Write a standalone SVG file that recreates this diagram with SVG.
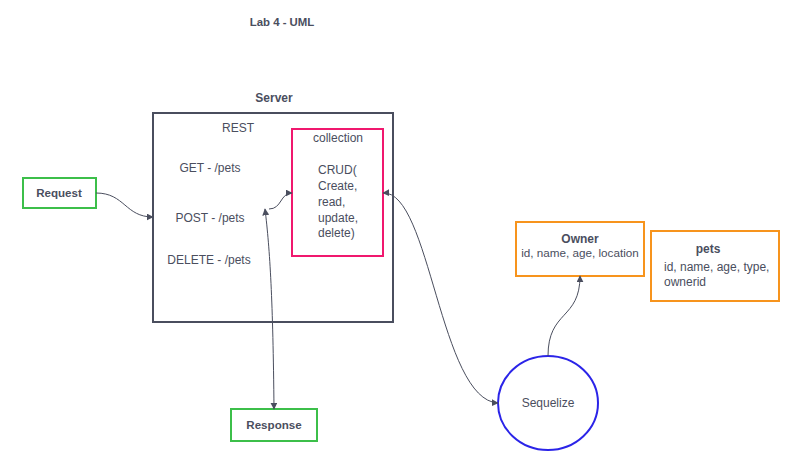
<svg xmlns="http://www.w3.org/2000/svg" width="799" height="463" viewBox="0 0 799 463">
<style>
text{font-family:"Liberation Sans",Arial,sans-serif;font-size:12px;fill:#4a4e5e}
.b{font-weight:bold}
.m{text-anchor:middle}
.edge{fill:none;stroke:#4a4e5e;stroke-width:1}
.green{fill:#fff;stroke:#3cbf4a;stroke-width:2}
.orange{fill:#fff;stroke:#f7941d;stroke-width:2}
</style>
<defs>
<marker id="ah" viewBox="0 0 10 10" refX="9" refY="5" markerWidth="7" markerHeight="7" markerUnits="userSpaceOnUse" orient="auto-start-reverse">
<path d="M0,0 L10,5 L0,10 z" fill="#4a4e5e"/>
</marker>
</defs>
<rect width="799" height="463" fill="#fff"/>
<text class="b m" x="282" y="26" style="font-size:11.4px">Lab 4 - UML</text>
<g id="server">
<text class="b m" x="274" y="102">Server</text>
<rect x="153" y="113" width="240" height="209" fill="#fff" stroke="#4a4e5e" stroke-width="2"/>
<text class="m" x="238" y="132">REST</text>
<text class="m" x="210" y="172">GET - /pets</text>
<text class="m" x="210" y="222">POST - /pets</text>
<text class="m" x="209" y="264">DELETE - /pets</text>
</g>
<g id="collection">
<rect x="292" y="129" width="91" height="127" fill="#fff" stroke="#f0186e" stroke-width="2"/>
<text class="m" x="338" y="142">collection</text>
<text x="318" y="174">CRUD(</text>
<text x="318" y="190">Create,</text>
<text x="318" y="206">read,</text>
<text x="318" y="222">update,</text>
<text x="318" y="237">delete)</text>
</g>
<g id="request">
<rect class="green" x="23" y="178" width="73" height="30"/>
<text class="b m" x="59" y="197" style="font-size:11.6px">Request</text>
</g>
<g id="response">
<rect class="green" x="231" y="409" width="86" height="32"/>
<text class="b m" x="274" y="429" style="font-size:11.6px">Response</text>
</g>
<g id="sequelize">
<ellipse cx="548" cy="403" rx="50" ry="47" fill="#fff" stroke="#2b24e8" stroke-width="2"/>
<text class="m" x="548" y="407">Sequelize</text>
</g>
<g id="owner">
<rect class="orange" x="516" y="222" width="128" height="54"/>
<text class="b m" x="580" y="243">Owner</text>
<text class="m" x="580" y="257" style="font-size:11.7px">id, name, age, location</text>
</g>
<g id="pets">
<rect class="orange" x="651" y="231" width="128" height="70"/>
<text class="b m" x="708" y="253">pets</text>
<text x="664" y="271">id, name, age, type,</text>
<text x="664" y="286">ownerid</text>
</g>
<g id="connectors">
<path class="edge" d="M96,193 C125,193 125,217 153,217" marker-end="url(#ah)"/>
<path class="edge" d="M269,209 C282,209 280,193 292,193" marker-end="url(#ah)"/>
<path class="edge" d="M265,209 C270,250 273,300 274,409" marker-start="url(#ah)" marker-end="url(#ah)"/>
<path class="edge" d="M383,193 C430,190 440,400 498,403" marker-start="url(#ah)" marker-end="url(#ah)"/>
<path class="edge" d="M548,356 C548,310 580,320 580,276" marker-end="url(#ah)"/>
</g>
</svg>
